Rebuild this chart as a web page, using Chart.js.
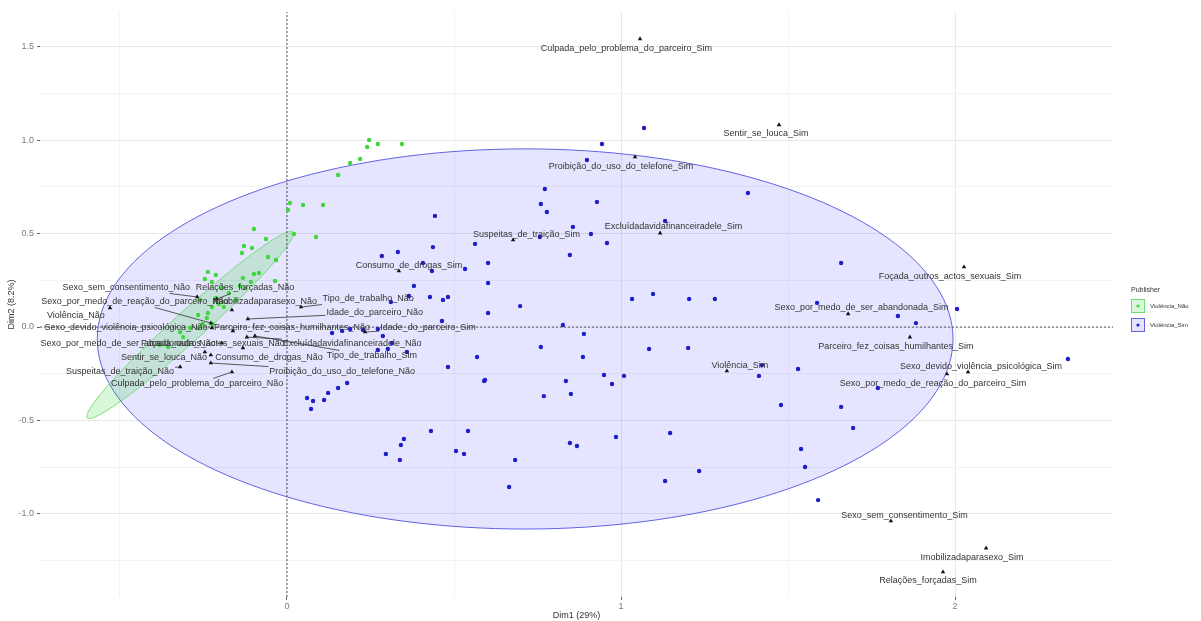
<!DOCTYPE html>
<html lang="pt">
<head>
<meta charset="utf-8">
<title>Biplot ACM - Violência</title>
<script src="https://cdn.jsdelivr.net/npm/chart.js@4.4.1/dist/chart.umd.min.js"></script>
<style>
  html, body { margin: 0; padding: 0; background: #fff; }
  #grafico { display: block; }
</style>
</head>
<body>
<canvas id="grafico" width="1201" height="621"></canvas>
<script>
// limites dos eixos (Dim1 / Dim2)
var X_MIN = -0.7395, X_MAX = 2.473;
var Y_MIN = -1.446, Y_MAX = 1.687;

// individuos - Violência_Não
var naoDim1 = [0.246, 0.272, 0.344, 0.240, 0.219, 0.189, 0.153, 0.009, 0.048, 0.108,
               0.003, 0.021, 0.087, -0.099, -0.063, -0.129, -0.105, -0.135, -0.057, -0.033,
               -0.099, -0.084, -0.132, -0.108, -0.036, -0.126, -0.237, -0.213, -0.246, -0.225,
               -0.195, -0.141, -0.213, -0.204, -0.225, -0.189, -0.237, -0.266, -0.240, -0.252,
               -0.222, -0.266, -0.290, -0.311, -0.320, -0.356, -0.380, -0.174, -0.153, -0.260];
var naoDim2 = [1.002, 0.980, 0.980, 0.964, 0.900, 0.878, 0.814, 0.664, 0.653, 0.653,
               0.627, 0.498, 0.482, 0.525, 0.471, 0.434, 0.423, 0.396, 0.375, 0.359,
               0.284, 0.289, 0.262, 0.241, 0.246, 0.209, 0.295, 0.279, 0.257, 0.241,
               0.209, 0.220, 0.155, 0.123, 0.107, 0.107, 0.075, 0.064, 0.048, 0.016,
               0.016, -0.005, -0.005, -0.054, -0.027, -0.107, -0.096, 0.182, 0.145, 0.145];

// individuos - Violência_Sim
var simDim1 = [1.069, 0.943, 0.898, 0.772, 0.760, 0.778, 0.928, 1.380, 1.132, 0.856,
               0.910, 0.958, 0.563, 0.847, 0.757, 0.443, 0.437, 0.332, 0.284, 0.407,
               0.434, 0.533, 0.602, 0.380, 0.428, 0.467, 0.482, 0.311, 0.365, 0.602,
               0.602, 0.464, 0.569, 0.482, 0.593, 0.135, 0.165, 0.189, 0.228, 0.272,
               0.287, 0.314, 0.359, 0.272, 0.302, 0.180, 0.153, 0.123, 0.111, 0.060,
               0.078, 0.072, 0.590, 0.769, 0.835, 0.850, 0.973, 0.431, 0.542, 0.350,
               0.341, 0.296, 0.338, 0.506, 0.530, 0.683, 0.665, 0.847, 0.868, 0.985,
               1.147, 1.234, 1.132, 1.033, 1.204, 1.281, 1.659, 1.587, 1.829, 1.883,
               2.006, 2.338, 1.422, 1.413, 1.530, 1.479, 1.659, 1.695, 1.539, 1.551,
               1.590, 1.769, 0.826, 0.889, 0.760, 0.886, 1.009, 1.084, 1.201, 1.096,
               0.698, 0.949];
var simDim2 = [1.066, 0.980, 0.894, 0.739, 0.659, 0.616, 0.670, 0.718, 0.568, 0.536,
               0.498, 0.450, 0.445, 0.386, 0.482, 0.595, 0.428, 0.402, 0.380, 0.343,
               0.300, 0.311, 0.343, 0.220, 0.161, 0.145, 0.161, 0.134, 0.166, 0.236,
               0.075, 0.032, -0.161, -0.214, -0.284, -0.032, -0.021, -0.011, -0.016, -0.011,
               -0.048, -0.086, -0.134, -0.123, -0.118, -0.300, -0.327, -0.353, -0.391, -0.380,
               -0.396, -0.439, -0.289, -0.370, -0.289, -0.359, -0.305, -0.557, -0.557, -0.600,
               -0.632, -0.680, -0.712, -0.664, -0.680, -0.712, -0.857, -0.621, -0.637, -0.589,
               -0.568, -0.771, -0.825, 0.150, 0.150, 0.150, 0.343, 0.129, 0.059, 0.021,
               0.096, -0.171, -0.204, -0.262, -0.225, -0.418, -0.428, -0.541, -0.653, -0.750,
               -0.927, -0.327, 0.011, -0.037, -0.107, -0.161, -0.262, -0.118, -0.112, 0.177,
               0.112, -0.257];

// categorias das variaveis
var categorias = [
  'Culpada_pelo_problema_do_parceiro_Sim', 'Sentir_se_louca_Sim', 'Proibição_do_uso_do_telefone_Sim',
  'Excluídadavidafinanceiradele_Sim', 'Suspeitas_de_traição_Sim', 'Consumo_de_drogas_Sim',
  'Idade_do_parceiro_Sim', 'Tipo_de_trabalho_Sim', 'Foçada_outros_actos_sexuais_Sim',
  'Sexo_por_medo_de_ser_abandonada_Sim', 'Parceiro_fez_coisas_humilhantes_Sim', 'Violência_Sim',
  'Sexo_devido_violência_psicológica_Sim', 'Sexo_por_medo_de_reação_do_parceiro_Sim',
  'Sexo_sem_consentimento_Sim', 'Imobilizadaparasexo_Sim', 'Relações_forçadas_Sim',
  'Sexo_sem_consentimento_Não', 'Relações_forçadas_Não', 'Sexo_por_medo_de_reação_do_parceiro_Não',
  'Imobilizadaparasexo_Não', 'Tipo_de_trabalho_Não', 'Violência_Não', 'Idade_do_parceiro_Não',
  'Sexo_devido_violência_psicológica_Não', 'Parceiro_fez_coisas_humilhantes_Não',
  'Sexo_por_medo_de_ser_abandonada_Não', 'Foçada_outros_actos_sexuais_Não',
  'Excluídadavidafinanceiradele_Não', 'Sentir_se_louca_Não', 'Consumo_de_drogas_Não',
  'Suspeitas_de_traição_Não', 'Proibição_do_uso_do_telefone_Não', 'Culpada_pelo_problema_do_parceiro_Não'
];
var catDim1 = [1.057, 1.473, 1.042, 1.117, 0.677, 0.335, 0.234, -0.096, 2.027,
               1.680, 1.865, 1.317, 2.039, 1.976, 1.808, 2.093, 1.964,
               -0.269, -0.210, -0.228, -0.165, 0.042, -0.530, -0.117, -0.225, -0.162,
               -0.195, -0.132, -0.120, -0.246, -0.228, -0.320, -0.228, -0.165];
var catDim2 = [1.543, 1.082, 0.911, 0.503, 0.466, 0.300, -0.027, -0.048, 0.321,
               0.070, -0.054, -0.236, -0.241, -0.252, -1.039, -1.184, -1.312,
               0.161, 0.150, 0.021, 0.091, 0.107, 0.102, 0.043, -0.005, -0.021,
               -0.086, -0.112, -0.054, -0.134, -0.150, -0.214, -0.193, -0.241];

// onde fica o centro de cada rotulo (repel), nas unidades das dimensoes
var posRotulos = [
  [1.016, 1.489], [1.434, 1.034], [1.000, 0.862], [1.157, 0.536], [0.717, 0.493], [0.365, 0.327],
  [0.422, -0.005], [0.254, -0.155], [1.985, 0.268], [1.720, 0.102], [1.823, -0.107], [1.356, -0.204],
  [2.078, -0.209], [1.934, -0.300], [1.849, -1.007], [2.051, -1.232], [1.919, -1.360],
  [-0.481, 0.209], [-0.126, 0.209], [-0.455, 0.134], [-0.066, 0.134], [0.243, 0.150], [-0.632, 0.064],
  [0.263, 0.075], [-0.482, -0.005], [0.015, -0.005], [-0.476, -0.086], [-0.222, -0.086],
  [0.195, -0.086], [-0.368, -0.161], [-0.054, -0.161], [-0.500, -0.236], [0.165, -0.236], [-0.269, -0.305]
];

// elipses de concentracao: centro e dois semi-eixos conjugados
var elipseSim = { centro: [0.713, -0.064], eixoA: [1.281, 0], eixoB: [0, 1.018] };
var elipseNao = { centro: [-0.290, 0.011], eixoA: [0.308, 0.498], eixoB: [0.030, -0.059] };

var AZUL = '#1e1ec8', VERDE = '#3fd63f';
var FONTE = '"Liberation Sans", Arial, sans-serif';

function juntar(xs, ys) {
  var lista = [];
  for (var i = 0; i < xs.length; i++) lista.push({ x: xs[i], y: ys[i] });
  return lista;
}

function ehInteiro(v) { return Math.abs(v - Math.round(v)) < 1e-9; }
function ehMeio(v) { return Math.abs(v * 2 - Math.round(v * 2)) < 1e-9; }

// desenha as elipses por baixo dos pontos
var pluginElipses = {
  id: 'elipses',
  beforeDatasetsDraw: function (chart) {
    var c = chart.ctx, sx = chart.scales.x, sy = chart.scales.y, area = chart.chartArea;
    var lista = [
      { e: elipseSim, fundo: 'rgba(0,0,255,0.10)', linha: '#6262e2' },
      { e: elipseNao, fundo: 'rgba(0,200,0,0.15)', linha: '#74dc74' }
    ];
    c.save();
    c.beginPath();
    c.rect(area.left, area.top, area.right - area.left, area.bottom - area.top);
    c.clip();
    lista.forEach(function (item) {
      var e = item.e;
      c.beginPath();
      for (var k = 0; k <= 180; k++) {
        var t = k / 180 * Math.PI * 2;
        var vx = e.centro[0] + e.eixoA[0] * Math.cos(t) + e.eixoB[0] * Math.sin(t);
        var vy = e.centro[1] + e.eixoA[1] * Math.cos(t) + e.eixoB[1] * Math.sin(t);
        var px = sx.getPixelForValue(vx), py = sy.getPixelForValue(vy);
        if (k === 0) c.moveTo(px, py); else c.lineTo(px, py);
      }
      c.closePath();
      c.fillStyle = item.fundo;
      c.fill();
      c.lineWidth = 1;
      c.strokeStyle = item.linha;
      c.stroke();
    });
    c.restore();
  }
};

// rotulos das categorias; segmento ate o ponto so quando o rotulo ficou afastado
var pluginRotulos = {
  id: 'rotulos',
  afterDatasetsDraw: function (chart) {
    var c = chart.ctx, sx = chart.scales.x, sy = chart.scales.y;
    c.save();
    c.font = '9px ' + FONTE;
    c.strokeStyle = '#333';
    c.lineWidth = 0.8;
    for (var i = 0; i < categorias.length; i++) {
      var px = sx.getPixelForValue(catDim1[i]), py = sy.getPixelForValue(catDim2[i]);
      var lx = sx.getPixelForValue(posRotulos[i][0]), ly = sy.getPixelForValue(posRotulos[i][1]);
      var meiaL = c.measureText(categorias[i]).width / 2 + 1, meiaA = 5.5;
      // distancia do ponto ate a caixa do texto
      var fx = Math.max(Math.abs(px - lx) - meiaL, 0), fy = Math.max(Math.abs(py - ly) - meiaA, 0);
      if (Math.hypot(fx, fy) < 5) continue;
      var dx = px - lx, dy = py - ly;
      var tx = dx === 0 ? Infinity : meiaL / Math.abs(dx);
      var ty = dy === 0 ? Infinity : meiaA / Math.abs(dy);
      var t = Math.min(tx, ty);
      c.beginPath();
      c.moveTo(px, py);
      c.lineTo(lx + dx * t, ly + dy * t);
      c.stroke();
    }
    c.fillStyle = '#333';
    c.textAlign = 'center';
    c.textBaseline = 'middle';
    for (var j = 0; j < categorias.length; j++) {
      c.fillText(categorias[j], sx.getPixelForValue(posRotulos[j][0]), sy.getPixelForValue(posRotulos[j][1]));
    }
    c.restore();
  }
};

// legenda no estilo do ggplot (caixa com ponto)
var pluginLegenda = {
  id: 'legendaPublisher',
  afterDraw: function (chart) {
    var c = chart.ctx;
    var x0 = chart.chartArea.right + 18;
    var itens = [
      { texto: 'Violência_Não', fundo: 'rgba(0,200,0,0.15)', linha: '#74dc74', ponto: VERDE },
      { texto: 'Violência_Sim', fundo: 'rgba(0,0,255,0.10)', linha: '#6262e2', ponto: AZUL }
    ];
    c.save();
    c.fillStyle = '#333';
    c.textBaseline = 'middle';
    c.font = '7px ' + FONTE;
    c.fillText('Publisher', x0, 290);
    itens.forEach(function (it, i) {
      var y = 299 + i * 19;
      c.fillStyle = it.fundo;
      c.fillRect(x0, y, 14, 14);
      c.strokeStyle = it.linha;
      c.lineWidth = 1;
      c.strokeRect(x0 + 0.5, y + 0.5, 13, 13);
      c.beginPath();
      c.arc(x0 + 7, y + 7, 1.6, 0, Math.PI * 2);
      c.fillStyle = it.ponto;
      c.fill();
      c.fillStyle = '#333';
      c.font = '6px ' + FONTE;
      c.fillText(it.texto, x0 + 19, y + 7);
    });
    c.restore();
  }
};

var ctx = document.getElementById('grafico');

var grafico = new Chart(ctx, {
  type: 'scatter',
  data: {
    datasets: [
      {
        label: 'Categorias',
        data: juntar(catDim1, catDim2),
        pointStyle: 'triangle',
        pointRadius: 2.6,
        backgroundColor: '#111',
        borderColor: '#111',
        borderWidth: 0
      },
      {
        label: 'Violência_Sim',
        data: juntar(simDim1, simDim2),
        pointRadius: 2.2,
        backgroundColor: AZUL,
        borderWidth: 0
      },
      {
        label: 'Violência_Não',
        data: juntar(naoDim1, naoDim2),
        pointRadius: 2.2,
        backgroundColor: VERDE,
        borderWidth: 0
      },
      {
        label: 'ref x',
        data: [{ x: 0, y: Y_MIN }, { x: 0, y: Y_MAX }],
        showLine: true,
        borderColor: '#555',
        borderWidth: 1,
        borderDash: [2, 2],
        pointRadius: 0
      },
      {
        label: 'ref y',
        data: [{ x: X_MIN, y: 0 }, { x: X_MAX, y: 0 }],
        showLine: true,
        borderColor: '#555',
        borderWidth: 1,
        borderDash: [2, 2],
        pointRadius: 0
      }
    ]
  },
  options: {
    responsive: false,
    animation: false,
    devicePixelRatio: 1,
    layout: { padding: { top: 12, right: 88, bottom: 0, left: 0 } },
    plugins: {
      legend: { display: false },
      tooltip: { enabled: false }
    },
    scales: {
      x: {
        type: 'linear',
        min: X_MIN,
        max: X_MAX,
        border: { display: false },
        grid: {
          color: function (c) { return ehInteiro(c.tick.value) ? '#e8e8e8' : '#f3f3f3'; },
          tickColor: function (c) { return ehInteiro(c.tick.value) ? '#666' : 'rgba(0,0,0,0)'; },
          tickLength: 3
        },
        ticks: {
          stepSize: 0.5,
          includeBounds: false,
          autoSkip: false,
          maxRotation: 0,
          padding: 1,
          color: '#7a7a7a',
          font: { size: 9 },
          callback: function (v) { return ehInteiro(v) ? String(Math.round(v)) : ''; }
        },
        title: { display: true, text: 'Dim1 (29%)', color: '#333', font: { size: 9 }, padding: 0 },
        afterFit: function (s) { s.height = 24; }
      },
      y: {
        type: 'linear',
        min: Y_MIN,
        max: Y_MAX,
        border: { display: false },
        grid: {
          color: function (c) { return ehMeio(c.tick.value) ? '#e8e8e8' : '#f3f3f3'; },
          tickColor: function (c) { return ehMeio(c.tick.value) ? '#666' : 'rgba(0,0,0,0)'; },
          tickLength: 3
        },
        ticks: {
          stepSize: 0.25,
          includeBounds: false,
          autoSkip: false,
          padding: 3,
          color: '#7a7a7a',
          font: { size: 9 },
          callback: function (v) { return ehMeio(v) ? v.toFixed(1) : ''; }
        },
        title: { display: true, text: 'Dim2 (8.2%)', color: '#333', font: { size: 9 }, padding: { top: 6, bottom: 0 } },
        afterFit: function (s) { s.width = 40; }
      }
    }
  },
  plugins: [pluginElipses, pluginRotulos, pluginLegenda]
});
</script>
</body>
</html>
